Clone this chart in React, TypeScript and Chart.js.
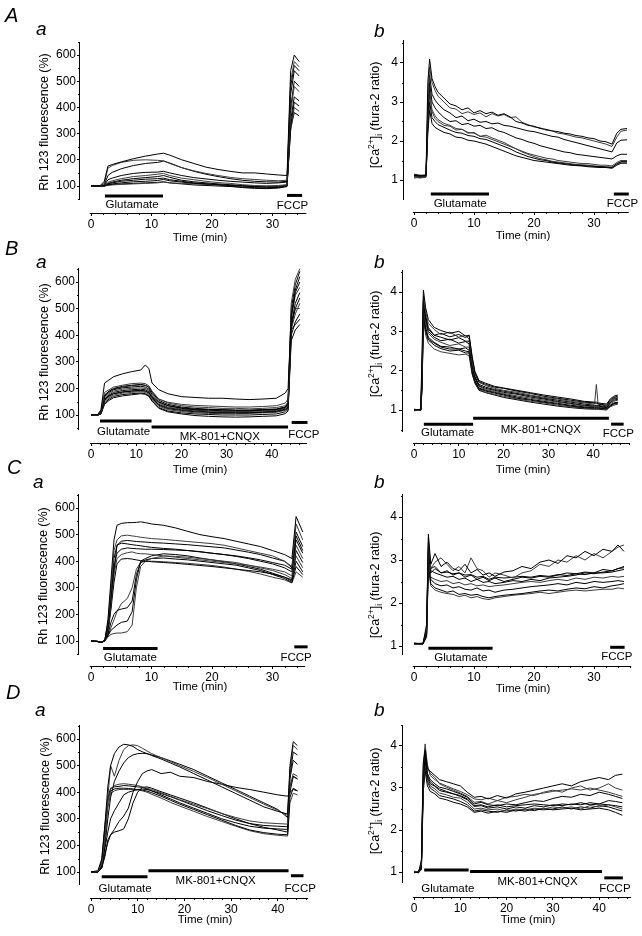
import React, { useEffect, useRef } from "react";
import { Chart, registerables } from "chart.js";

Chart.register(...registerables);

const FONT = '"Liberation Sans", Arial, Helvetica, sans-serif';

type Drug = { name: string; start: number; end: number; level: number; labelAt: number };

// ================= DATA =================
const rhTicks = [100, 200, 300, 400, 500, 600];
const caTicks = [1, 2, 3, 4];
const timeTicks30 = [0, 10, 20, 30];
const timeTicks40 = [0, 10, 20, 30, 40];

// ---- A a : Rh123, glutamate then FCCP ----
const timeAa = [0, 1.5, 2.2, 2.8, 3.5, 5, 7, 9, 11, 12, 13, 15, 17, 19, 21, 23, 25, 27, 29, 31, 32.4, 33.0, 33.6, 34.4];
const rhAa = [
  [100, 101, 118, 176, 182, 192, 204, 214, 222, 225, 218, 200, 186, 172, 163, 156, 150, 150, 146, 142, 140, 540, 600, 575],
  [100, 100, 110, 168, 178, 190, 198, 200, 198, 196, 186, 170, 158, 148, 140, 133, 128, 125, 122, 120, 122, 500, 575, 555],
  [100, 100, 105, 140, 152, 166, 178, 186, 190, 195, 188, 170, 156, 145, 136, 128, 122, 118, 116, 115, 118, 480, 560, 540],
  [100, 100, 102, 124, 130, 140, 148, 152, 153, 156, 150, 140, 132, 127, 122, 118, 115, 112, 110, 112, 115, 450, 540, 520],
  [100, 99, 100, 114, 120, 128, 136, 140, 145, 148, 140, 130, 124, 118, 113, 110, 105, 102, 100, 100, 104, 380, 480, 460],
  [100, 100, 101, 110, 115, 122, 128, 132, 136, 140, 133, 122, 116, 112, 108, 105, 102, 98, 95, 95, 100, 350, 440, 425],
  [100, 100, 100, 105, 108, 112, 116, 118, 121, 125, 120, 115, 110, 108, 105, 102, 100, 98, 97, 98, 102, 330, 420, 405],
  [100, 100, 100, 102, 104, 106, 108, 110, 112, 115, 112, 110, 108, 106, 104, 102, 100, 98, 100, 102, 105, 310, 400, 385],
  [100, 100, 100, 108, 112, 118, 122, 126, 128, 130, 124, 118, 112, 108, 104, 99, 94, 91, 90, 92, 98, 320, 380, 368],
  [100, 100, 100, 104, 106, 108, 110, 112, 114, 116, 112, 108, 104, 102, 100, 98, 96, 94, 92, 95, 100, 400, 500, 480],
];
const drugsAa: Drug[] = [
  { name: "Glutamate", start: 2.3, end: 11.9, level: 62, labelAt: 6.8 },
  { name: "FCCP", start: 32.4, end: 34.9, level: 64, labelAt: 33.3 },
];

// ---- A b : fura-2 ratio ----
const timeAb = [0, 1, 2.0, 2.3, 2.6, 3, 3.5, 4, 5, 6, 7, 8, 9, 10, 11, 12, 13, 14, 15, 16, 17, 18, 19, 20, 21, 22, 23, 24, 25, 26, 27, 28, 29, 30, 31, 32, 33, 33.8, 34.5, 35.5];
const caAb = [
  [1.12, 1.1, 1.12, 3.5, 4.1, 3.6, 3.4, 3.25, 3.1, 2.95, 2.9, 2.8, 2.85, 2.72, 2.78, 2.7, 2.74, 2.66, 2.7, 2.62, 2.5, 2.46, 2.4, 2.38, 2.32, 2.3, 2.26, 2.24, 2.2, 2.18, 2.14, 2.12, 2.08, 2.06, 2.0, 1.98, 1.92, 2.2, 2.3, 2.32],
  [1.08, 1.1, 1.1, 3.0, 3.9, 3.5, 3.3, 3.15, 3.0, 2.85, 2.82, 2.7, 2.75, 2.68, 2.72, 2.62, 2.7, 2.64, 2.68, 2.6, 2.62, 2.48, 2.42, 2.36, 2.34, 2.28, 2.26, 2.2, 2.18, 2.14, 2.1, 2.08, 2.04, 2.0, 1.96, 1.92, 1.86, 2.1, 2.25, 2.28],
  [1.15, 1.12, 1.13, 2.8, 3.7, 3.2, 3.05, 2.95, 2.8, 2.72, 2.6, 2.64, 2.52, 2.56, 2.48, 2.5, 2.44, 2.46, 2.4, 2.38, 2.34, 2.3, 2.26, 2.24, 2.2, 2.16, 2.12, 2.1, 2.04, 2.0, 1.96, 1.92, 1.88, 1.84, 1.8, 1.76, 1.72, 1.95, 2.02, 2.03],
  [1.1, 1.08, 1.1, 2.6, 3.5, 3.0, 2.85, 2.75, 2.6, 2.5, 2.52, 2.42, 2.45, 2.38, 2.4, 2.32, 2.34, 2.26, 2.22, 2.15, 2.08, 2.04, 1.98, 1.94, 1.88, 1.84, 1.8, 1.76, 1.72, 1.7, 1.66, 1.64, 1.62, 1.6, 1.58, 1.56, 1.54, 1.62, 1.66, 1.66],
  [1.05, 1.07, 1.08, 2.5, 3.3, 2.8, 2.65, 2.55, 2.45, 2.4, 2.32, 2.3, 2.22, 2.2, 2.12, 2.1, 2.04, 1.98, 1.92, 1.86, 1.8, 1.74, 1.68, 1.64, 1.6, 1.56, 1.54, 1.5, 1.48, 1.46, 1.44, 1.42, 1.42, 1.4, 1.38, 1.38, 1.36, 1.45, 1.5, 1.5],
  [1.12, 1.1, 1.1, 2.3, 3.0, 2.6, 2.5, 2.42, 2.35, 2.28, 2.22, 2.2, 2.14, 2.12, 2.06, 2.04, 1.98, 1.92, 1.86, 1.8, 1.72, 1.66, 1.6, 1.56, 1.52, 1.5, 1.46, 1.44, 1.42, 1.4, 1.38, 1.37, 1.36, 1.35, 1.34, 1.33, 1.32, 1.42, 1.47, 1.47],
  [1.1, 1.12, 1.1, 2.2, 2.8, 2.45, 2.35, 2.3, 2.22, 2.18, 2.1, 2.08, 2.02, 2.0, 1.96, 1.92, 1.86, 1.8, 1.74, 1.68, 1.62, 1.58, 1.54, 1.5, 1.48, 1.46, 1.44, 1.42, 1.4, 1.38, 1.37, 1.36, 1.34, 1.33, 1.32, 1.32, 1.3, 1.38, 1.43, 1.43],
  [1.08, 1.05, 1.07, 2.4, 3.2, 2.75, 2.58, 2.5, 2.4, 2.38, 2.28, 2.3, 2.2, 2.22, 2.12, 2.15, 2.08, 2.02, 1.96, 1.88, 1.8, 1.72, 1.66, 1.6, 1.55, 1.52, 1.48, 1.46, 1.44, 1.42, 1.4, 1.39, 1.38, 1.36, 1.35, 1.34, 1.33, 1.4, 1.46, 1.46],
];
const drugsAb: Drug[] = [
  { name: "Glutamate", start: 2.8, end: 12.5, level: 0.64, labelAt: 7.7 },
  { name: "FCCP", start: 33.3, end: 35.8, level: 0.64, labelAt: 34.75 },
];

// ---- B a : Rh123, glutamate then MK-801+CNQX ----
const timeBa = [0, 1.5, 2.2, 3, 4, 5, 7, 9, 11, 12, 12.8, 13.5, 15, 17, 20, 23, 26, 29, 32, 35, 38, 41, 43, 43.6, 44.3, 45.2, 46.2];
const rhBa = [
  [100, 102, 120, 220, 232, 244, 255, 263, 269, 288, 275, 220, 195, 180, 169, 166, 163, 163, 160, 158, 160, 163, 183, 200, 470, 560, 600],
  [100, 100, 115, 185, 195, 205, 212, 218, 220, 218, 210, 190, 160, 145, 135, 130, 128, 125, 125, 123, 125, 128, 135, 150, 520, 610, 650],
  [100, 101, 112, 175, 190, 200, 208, 212, 215, 212, 205, 185, 155, 140, 130, 125, 122, 120, 118, 118, 120, 122, 130, 145, 500, 590, 640],
  [100, 100, 110, 170, 185, 195, 202, 205, 208, 205, 198, 178, 150, 135, 125, 120, 118, 116, 115, 116, 118, 120, 128, 140, 480, 570, 620],
  [100, 99, 108, 165, 180, 190, 197, 200, 202, 200, 193, 172, 145, 130, 122, 118, 115, 113, 112, 113, 115, 117, 125, 135, 460, 550, 580],
  [100, 100, 107, 160, 175, 185, 192, 195, 197, 195, 188, 168, 140, 127, 120, 115, 112, 110, 110, 110, 112, 115, 122, 130, 440, 520, 560],
  [100, 101, 106, 155, 170, 180, 187, 190, 192, 190, 183, 165, 137, 124, 117, 112, 110, 108, 108, 108, 110, 113, 120, 128, 430, 500, 540],
  [100, 100, 105, 150, 165, 175, 182, 185, 188, 185, 178, 160, 133, 120, 113, 108, 106, 105, 105, 106, 108, 110, 118, 125, 420, 480, 520],
  [100, 100, 105, 145, 160, 170, 177, 180, 183, 180, 173, 155, 128, 115, 108, 104, 102, 100, 100, 100, 102, 104, 112, 120, 400, 450, 480],
  [100, 100, 104, 160, 172, 180, 186, 190, 192, 190, 184, 170, 148, 135, 127, 122, 120, 120, 118, 118, 120, 122, 130, 145, 420, 440, 460],
  [100, 99, 106, 175, 188, 198, 205, 210, 213, 211, 204, 185, 160, 148, 140, 136, 134, 132, 130, 130, 132, 135, 145, 160, 450, 500, 500],
  [100, 100, 104, 140, 155, 165, 172, 176, 180, 178, 170, 152, 125, 112, 104, 98, 95, 93, 92, 93, 95, 97, 105, 115, 380, 420, 440],
];
const drugsBa: Drug[] = [
  { name: "Glutamate", start: 2.0, end: 13.4, level: 77, labelAt: 7.2 },
  { name: "MK-801+CNQX", start: 13.4, end: 43.6, level: 55, labelAt: 28.5 },
  { name: "FCCP", start: 44.4, end: 47.9, level: 72, labelAt: 47.1 },
];

// ---- B b ----
const timeBb = [0, 1.5, 1.8, 2.1, 2.6, 3.2, 4.5, 6, 8, 10, 11.5, 12.3, 13, 13.6, 14.5, 16, 18, 20, 23, 26, 29, 32, 35, 38, 40.3, 40.7, 41.1, 43, 43.8, 44.6, 45.5];
const caBb = [
  [1.0, 1.02, 2.5, 4.05, 3.6, 3.3, 3.1, 3.02, 2.95, 3.0, 2.88, 2.9, 2.3, 1.95, 1.72, 1.65, 1.58, 1.55, 1.48, 1.42, 1.35, 1.3, 1.25, 1.2, 1.18, 1.17, 1.16, 1.12, 1.25, 1.32, 1.35],
  [1.0, 1.0, 2.2, 3.9, 3.5, 3.2, 3.05, 2.92, 2.98, 2.85, 2.9, 2.8, 2.2, 1.9, 1.7, 1.62, 1.55, 1.5, 1.45, 1.38, 1.32, 1.28, 1.22, 1.18, 1.15, 1.65, 1.15, 1.1, 1.22, 1.3, 1.32],
  [1.02, 1.0, 2.0, 3.8, 3.4, 3.1, 2.9, 2.85, 2.78, 2.84, 2.75, 2.75, 2.15, 1.85, 1.65, 1.58, 1.52, 1.48, 1.42, 1.36, 1.3, 1.25, 1.2, 1.15, 1.12, 1.12, 1.12, 1.08, 1.2, 1.28, 1.3],
  [1.0, 1.01, 1.9, 3.7, 3.3, 3.0, 2.85, 2.76, 2.8, 2.7, 2.74, 2.68, 2.1, 1.82, 1.62, 1.55, 1.5, 1.45, 1.4, 1.33, 1.28, 1.22, 1.17, 1.12, 1.1, 1.1, 1.1, 1.06, 1.18, 1.25, 1.27],
  [0.98, 1.0, 1.8, 3.6, 3.2, 2.95, 2.8, 2.72, 2.64, 2.68, 2.6, 2.6, 2.05, 1.8, 1.6, 1.52, 1.47, 1.42, 1.36, 1.3, 1.25, 1.2, 1.15, 1.1, 1.08, 1.08, 1.08, 1.05, 1.15, 1.22, 1.25],
  [1.0, 0.99, 1.7, 3.5, 3.1, 2.85, 2.72, 2.62, 2.6, 2.55, 2.58, 2.52, 2.0, 1.75, 1.56, 1.5, 1.45, 1.4, 1.33, 1.27, 1.22, 1.17, 1.12, 1.08, 1.06, 1.06, 1.06, 1.04, 1.12, 1.18, 1.2],
  [1.0, 1.0, 1.6, 3.4, 3.0, 2.78, 2.65, 2.56, 2.5, 2.52, 2.45, 2.45, 1.95, 1.72, 1.54, 1.48, 1.43, 1.38, 1.3, 1.25, 1.2, 1.15, 1.1, 1.06, 1.05, 1.05, 1.05, 1.03, 1.1, 1.15, 1.18],
  [1.01, 1.0, 1.5, 3.3, 2.9, 2.7, 2.55, 2.48, 2.44, 2.4, 2.42, 2.38, 1.9, 1.7, 1.52, 1.45, 1.4, 1.35, 1.28, 1.22, 1.18, 1.12, 1.08, 1.05, 1.03, 1.03, 1.03, 1.02, 1.08, 1.12, 1.15],
  [0.99, 1.0, 1.8, 3.75, 3.35, 3.05, 2.9, 2.95, 2.86, 2.92, 2.84, 2.9, 2.35, 1.98, 1.75, 1.68, 1.6, 1.56, 1.5, 1.44, 1.38, 1.33, 1.28, 1.22, 1.2, 1.2, 1.18, 1.15, 1.28, 1.35, 1.38],
  [1.0, 1.01, 1.6, 3.45, 3.05, 2.8, 2.7, 2.6, 2.55, 2.55, 2.5, 2.48, 1.92, 1.68, 1.5, 1.44, 1.38, 1.32, 1.26, 1.2, 1.15, 1.1, 1.06, 1.03, 1.02, 1.02, 1.02, 1.0, 1.1, 1.16, 1.18],
];
const drugsBb: Drug[] = [
  { name: "Glutamate", start: 2.2, end: 13.2, level: 0.64, labelAt: 7.5 },
  { name: "MK-801+CNQX", start: 13.2, end: 43.5, level: 0.79, labelAt: 28.3 },
  { name: "FCCP", start: 44.0, end: 46.8, level: 0.64, labelAt: 45.6 },
];

// ---- C a ----
const timeCa = [0, 1, 1.8, 2.3, 2.8, 3.3, 3.8, 4.3, 5, 6, 6.8, 7.5, 8.2, 9, 10, 12, 14, 16, 18, 20, 22, 24, 26, 28, 30, 32, 33.2, 33.9, 35];
const rhCa = [
  [100, 98, 95, 105, 180, 330, 480, 535, 542, 545, 545, 546, 548, 545, 540, 535, 525, 512, 500, 492, 485, 475, 465, 455, 440, 425, 410, 568, 510],
  [100, 99, 96, 105, 170, 300, 440, 480, 495, 498, 495, 493, 490, 488, 485, 482, 478, 474, 470, 466, 460, 450, 440, 430, 420, 400, 380, 540, 480],
  [100, 98, 95, 104, 160, 280, 410, 460, 475, 478, 476, 474, 473, 472, 470, 468, 465, 462, 458, 454, 450, 442, 434, 425, 412, 400, 375, 510, 455],
  [100, 99, 95, 103, 150, 260, 380, 430, 445, 450, 448, 447, 446, 445, 445, 444, 442, 440, 435, 430, 425, 418, 410, 400, 390, 375, 360, 480, 430],
  [100, 98, 96, 103, 140, 240, 350, 410, 425, 432, 435, 430, 428, 428, 425, 420, 415, 410, 405, 400, 395, 390, 385, 378, 370, 360, 345, 460, 410],
  [100, 99, 95, 102, 130, 220, 320, 390, 408, 410, 408, 405, 402, 400, 398, 395, 392, 388, 384, 380, 375, 370, 365, 360, 352, 340, 330, 440, 395],
  [100, 98, 96, 102, 135, 230, 360, 460, 468, 465, 462, 460, 458, 455, 452, 448, 445, 440, 436, 430, 425, 420, 413, 405, 395, 385, 370, 495, 440],
  [100, 98, 95, 100, 115, 125, 128, 130, 130, 135, 160, 300, 380, 400, 410, 420, 418, 415, 410, 405, 400, 395, 385, 375, 365, 350, 335, 420, 375],
  [100, 99, 95, 101, 120, 140, 150, 160, 170, 175, 210, 330, 400, 410, 420, 428, 425, 420, 412, 405, 398, 390, 380, 370, 355, 340, 325, 400, 360],
  [100, 98, 96, 101, 125, 170, 200, 215, 220, 225, 250, 350, 395, 405, 410, 412, 408, 405, 400, 395, 390, 385, 375, 365, 350, 335, 320, 380, 350],
  [100, 99, 95, 102, 118, 150, 180, 210, 240, 260, 300, 370, 395, 400, 400, 398, 395, 392, 388, 384, 378, 370, 362, 352, 340, 330, 318, 360, 340],
];
const drugsCa: Drug[] = [
  { name: "Glutamate", start: 2.0, end: 11.0, level: 72, labelAt: 6.5 },
  { name: "FCCP", start: 33.6, end: 35.8, level: 78, labelAt: 33.9 },
];

// ---- C b ----
const timeCb = [0, 1.5, 2.1, 2.4, 2.8, 3.5, 4.5, 5.5, 6.5, 7.5, 8.5, 9.5, 10.5, 11.5, 12.5, 13.5, 15, 16.5, 18, 19.5, 21, 22.5, 24, 25.5, 27, 28.5, 30, 31.5, 33, 34, 35];
const caCb = [
  [1.06, 1.05, 1.5, 3.6, 2.9, 3.15, 2.85, 2.95, 2.8, 2.75, 2.9, 2.7, 2.78, 2.65, 2.7, 2.62, 2.72, 2.75, 2.85, 2.8, 2.95, 3.0, 2.92, 3.1, 3.05, 3.2, 3.1, 3.25, 3.2, 3.35, 3.2],
  [1.05, 1.07, 1.4, 3.5, 2.8, 2.95, 3.05, 2.9, 2.75, 2.85, 2.7, 3.05, 2.8, 2.75, 2.6, 2.7, 2.65, 2.58, 2.7, 2.75, 2.9, 2.85, 3.0, 2.95, 3.1, 3.0, 3.15, 3.05, 3.2, 3.3, 3.35],
  [1.05, 1.05, 1.4, 3.3, 2.7, 2.8, 2.7, 2.75, 2.65, 2.7, 2.6, 2.65, 2.55, 2.6, 2.52, 2.58, 2.5, 2.55, 2.6, 2.58, 2.62, 2.6, 2.65, 2.7, 2.68, 2.72, 2.7, 2.78, 2.75, 2.8, 2.85],
  [1.07, 1.05, 1.3, 3.2, 2.75, 2.7, 2.65, 2.6, 2.62, 2.55, 2.58, 2.5, 2.55, 2.48, 2.5, 2.45, 2.48, 2.52, 2.5, 2.55, 2.52, 2.58, 2.6, 2.62, 2.65, 2.7, 2.68, 2.72, 2.75, 2.8, 2.82],
  [1.05, 1.06, 1.3, 3.1, 2.6, 2.55, 2.5, 2.52, 2.45, 2.48, 2.42, 2.45, 2.4, 2.42, 2.38, 2.4, 2.42, 2.45, 2.48, 2.5, 2.48, 2.52, 2.55, 2.52, 2.58, 2.55, 2.6, 2.58, 2.62, 2.6, 2.62],
  [1.05, 1.05, 1.25, 3.0, 2.55, 2.45, 2.4, 2.42, 2.35, 2.38, 2.32, 2.3, 2.35, 2.28, 2.3, 2.25, 2.3, 2.32, 2.35, 2.38, 2.4, 2.42, 2.45, 2.42, 2.48, 2.45, 2.5, 2.48, 2.5, 2.52, 2.5],
  [1.06, 1.05, 1.25, 2.9, 2.45, 2.35, 2.3, 2.25, 2.28, 2.2, 2.22, 2.18, 2.2, 2.15, 2.12, 2.15, 2.18, 2.2, 2.22, 2.25, 2.28, 2.3, 2.28, 2.32, 2.35, 2.33, 2.38, 2.35, 2.4, 2.42, 2.45],
  [1.05, 1.05, 1.2, 2.8, 2.4, 2.3, 2.25, 2.22, 2.2, 2.15, 2.18, 2.12, 2.15, 2.1, 2.08, 2.12, 2.15, 2.18, 2.2, 2.22, 2.25, 2.22, 2.25, 2.28, 2.3, 2.28, 2.3, 2.32, 2.32, 2.35, 2.33],
  [1.05, 1.06, 1.35, 3.4, 2.8, 2.85, 2.7, 2.72, 2.68, 2.7, 2.65, 2.66, 2.6, 2.62, 2.55, 2.6, 2.58, 2.6, 2.62, 2.6, 2.64, 2.62, 2.66, 2.64, 2.68, 2.66, 2.7, 2.7, 2.72, 2.75, 2.78],
];
const drugsCb: Drug[] = [
  { name: "Glutamate", start: 2.4, end: 13.1, level: 0.95, labelAt: 7.8 },
  { name: "FCCP", start: 32.7, end: 35.1, level: 0.97, labelAt: 33.8 },
];

// ---- D a ----
const timeDa = [0, 1.5, 2.3, 3, 3.6, 4.2, 5, 6, 7, 8, 9, 10, 11, 12, 13, 15, 17, 19, 22, 25, 28, 31, 34, 37, 40, 42.1, 42.6, 43.3, 44.2];
const rhDa = [
  [100, 105, 150, 280, 420, 500, 545, 570, 580, 578, 572, 560, 552, 545, 538, 525, 510, 495, 470, 445, 420, 395, 370, 345, 328, 318, 500, 590, 575],
  [100, 102, 130, 230, 380, 500, 460, 520, 560, 575, 578, 575, 565, 555, 545, 530, 515, 500, 478, 455, 430, 405, 380, 355, 332, 312, 480, 576, 560],
  [100, 100, 120, 200, 300, 380, 440, 480, 510, 530, 540, 545, 546, 545, 540, 530, 518, 505, 485, 460, 435, 410, 385, 360, 335, 305, 460, 551, 540],
  [100, 101, 115, 160, 220, 240, 260, 290, 310, 340, 400, 440, 470, 480, 485, 470, 475, 460, 455, 440, 430, 418, 410, 400, 390, 385, 400, 410, 405],
  [100, 100, 125, 250, 360, 410, 425, 430, 432, 430, 428, 425, 420, 415, 410, 398, 385, 372, 355, 338, 320, 305, 292, 285, 282, 280, 420, 470, 460],
  [100, 102, 140, 280, 380, 415, 420, 422, 425, 424, 422, 420, 418, 412, 405, 390, 375, 360, 340, 320, 300, 285, 272, 265, 262, 260, 400, 459, 450],
  [100, 100, 130, 260, 370, 405, 412, 415, 415, 414, 412, 410, 408, 404, 398, 385, 370, 355, 335, 315, 295, 275, 258, 248, 242, 240, 380, 415, 405],
  [100, 101, 120, 220, 340, 395, 405, 410, 410, 410, 410, 408, 405, 400, 392, 378, 362, 348, 328, 308, 290, 272, 255, 244, 238, 235, 360, 396, 390],
  [100, 100, 115, 170, 210, 240, 250, 255, 262, 300, 360, 400, 418, 420, 415, 402, 390, 378, 360, 340, 320, 300, 282, 268, 258, 250, 450, 520, 505],
  [100, 100, 118, 190, 250, 300, 330, 360, 390, 400, 405, 410, 412, 410, 405, 395, 383, 370, 350, 330, 312, 295, 282, 275, 272, 270, 420, 460, 450],
];
const drugsDa: Drug[] = [
  { name: "Glutamate", start: 2.3, end: 12.1, level: 82, labelAt: 7.3 },
  { name: "MK-801+CNQX", start: 12.3, end: 42.3, level: 105, labelAt: 26.7 },
  { name: "FCCP", start: 42.8, end: 45.5, level: 86, labelAt: 44.8 },
];

// ---- D b ----
const timeDb = [0, 1, 1.6, 2.0, 2.4, 2.9, 3.5, 4.5, 5.5, 7, 8.5, 10, 11.5, 13, 14.5, 16, 18, 20, 22, 24, 26, 28, 30, 32, 34, 36, 38, 40, 42, 43.5, 45];
const caDb = [
  [1.0, 0.98, 1.3, 3.6, 3.9, 3.45, 3.4, 3.3, 3.2, 3.15, 3.1, 3.05, 2.9, 2.78, 2.8, 2.74, 2.82, 2.76, 2.86, 2.9, 2.95, 3.0, 3.05, 3.1, 3.05, 3.15, 3.2, 3.25, 3.2, 3.3, 3.33],
  [1.02, 1.0, 1.2, 3.5, 4.05, 3.55, 3.3, 3.2, 3.12, 3.05, 2.98, 2.92, 2.84, 2.74, 2.72, 2.76, 2.7, 2.78, 2.8, 2.85, 2.82, 2.9, 2.95, 2.9, 3.0, 3.05, 2.95, 3.0, 3.1, 3.0, 2.95],
  [0.98, 1.02, 1.1, 3.3, 3.8, 3.35, 3.2, 3.1, 3.02, 2.98, 2.92, 2.86, 2.78, 2.62, 2.66, 2.6, 2.58, 2.62, 2.6, 2.65, 2.7, 2.68, 2.75, 2.8, 2.78, 2.85, 2.82, 2.9, 2.85, 2.8, 2.75],
  [1.0, 1.0, 1.15, 3.2, 3.7, 3.25, 3.1, 3.04, 2.94, 2.9, 2.86, 2.8, 2.72, 2.56, 2.58, 2.52, 2.55, 2.5, 2.55, 2.52, 2.58, 2.55, 2.6, 2.58, 2.62, 2.6, 2.65, 2.62, 2.7, 2.68, 2.65],
  [1.02, 0.98, 1.1, 3.1, 3.6, 3.2, 3.05, 2.98, 2.88, 2.84, 2.78, 2.76, 2.66, 2.5, 2.52, 2.48, 2.5, 2.45, 2.5, 2.48, 2.52, 2.5, 2.55, 2.52, 2.55, 2.5, 2.58, 2.55, 2.6, 2.55, 2.5],
  [1.0, 1.0, 1.1, 3.0, 3.5, 3.15, 3.0, 2.92, 2.82, 2.78, 2.74, 2.68, 2.6, 2.45, 2.48, 2.45, 2.42, 2.48, 2.45, 2.5, 2.46, 2.52, 2.48, 2.5, 2.52, 2.48, 2.5, 2.52, 2.48, 2.42, 2.35],
  [0.98, 1.0, 1.05, 2.9, 3.4, 3.05, 2.92, 2.86, 2.76, 2.72, 2.66, 2.62, 2.55, 2.42, 2.45, 2.4, 2.45, 2.42, 2.48, 2.45, 2.5, 2.48, 2.5, 2.55, 2.5, 2.55, 2.52, 2.58, 2.55, 2.5, 2.45],
  [1.0, 1.02, 1.2, 3.4, 3.95, 3.5, 3.35, 3.25, 3.1, 3.02, 2.95, 2.88, 2.8, 2.66, 2.68, 2.62, 2.7, 2.65, 2.72, 2.78, 2.85, 2.88, 2.92, 2.95, 2.98, 2.95, 3.0, 2.95, 2.9, 2.85, 2.8],
  [1.01, 1.0, 1.15, 3.25, 3.75, 3.3, 3.15, 3.05, 2.98, 2.92, 2.86, 2.82, 2.74, 2.58, 2.6, 2.55, 2.6, 2.55, 2.58, 2.6, 2.62, 2.6, 2.58, 2.62, 2.6, 2.65, 2.6, 2.62, 2.6, 2.58, 2.55],
];
const drugsDb: Drug[] = [
  { name: "Glutamate", start: 2.2, end: 11.8, level: 1.05, labelAt: 7.3 },
  { name: "MK-801+CNQX", start: 12.1, end: 40.6, level: 1.01, labelAt: 26.7 },
  { name: "FCCP", start: 41.1, end: 45.1, level: 0.86, labelAt: 43.4 },
];

// ================= LAYOUT (pixels) =================
type Geo = {
  left: number; top: number; width: number; height: number;
  axisX: number; plotTop: number; plotRight: number; axisY: number; yLineBottom: number;
  x0: number; pxPerMin: number; yRef: number[]; xLine: number[];
  labelDy: number[]; yTitle: number[]; xTitle: number[]; yTickLen: number; yTickPad: number;
};

type PanelCfg = {
  kind: "rh" | "ca"; time: number[]; traces: number[][]; drugs: Drug[];
  xTicks: number[]; yTicks: number[]; geo: Geo;
};

const panels: PanelCfg[] = [
  { kind: "rh", time: timeAa, traces: rhAa, drugs: drugsAa, xTicks: timeTicks30, yTicks: rhTicks,
    geo: { left: 0, top: 0, width: 321, height: 245, axisX: 80, plotTop: 42, plotRight: 318, axisY: 213, yLineBottom: 200,
      x0: 91, pxPerMin: 6.05, yRef: [100, 186, 600, 55], xLine: [-0.2, 35.6], labelDy: [9, 10], yTitle: [45, 122], xTitle: [200, 238], yTickLen: 3, yTickPad: 1 } },
  { kind: "ca", time: timeAb, traces: caAb, drugs: drugsAb, xTicks: timeTicks30, yTicks: caTicks,
    geo: { left: 321, top: 0, width: 321, height: 245, axisX: 404, plotTop: 40, plotRight: 640, axisY: 212, yLineBottom: 200,
      x0: 414, pxPerMin: 6.0, yRef: [1, 180, 4, 63], xLine: [-0.2, 35.8], labelDy: [10, 10], yTitle: [376, 115], xTitle: [523, 236], yTickLen: 4, yTickPad: 2 } },
  { kind: "rh", time: timeBa, traces: rhBa, drugs: drugsBa, xTicks: timeTicks40, yTicks: rhTicks,
    geo: { left: 0, top: 245, width: 321, height: 233, axisX: 79, plotTop: 268, plotRight: 318, axisY: 443, yLineBottom: 430,
      x0: 91, pxPerMin: 4.52, yRef: [100, 415, 600, 282], xLine: [-0.2, 47.8], labelDy: [11, 10, 12], yTitle: [45, 352], xTitle: [200, 470], yTickLen: 3, yTickPad: 1 } },
  { kind: "ca", time: timeBb, traces: caBb, drugs: drugsBb, xTicks: timeTicks40, yTicks: caTicks,
    geo: { left: 321, top: 245, width: 321, height: 233, axisX: 403, plotTop: 270, plotRight: 640, axisY: 443, yLineBottom: 432,
      x0: 414, pxPerMin: 4.48, yRef: [1, 410, 4, 292], xLine: [-0.2, 48], labelDy: [9, 12, 10], yTitle: [376, 344], xTitle: [523, 470], yTickLen: 4, yTickPad: 2 } },
  { kind: "rh", time: timeCa, traces: rhCa, drugs: drugsCa, xTicks: timeTicks30, yTicks: rhTicks,
    geo: { left: 0, top: 478, width: 321, height: 219, axisX: 79, plotTop: 494, plotRight: 318, axisY: 666, yLineBottom: 655,
      x0: 91, pxPerMin: 6.05, yRef: [100, 641, 600, 508], xLine: [-0.2, 35.4], labelDy: [9, 11], yTitle: [44, 576], xTitle: [200, 687], yTickLen: 3, yTickPad: 1 } },
  { kind: "ca", time: timeCb, traces: caCb, drugs: drugsCb, xTicks: timeTicks30, yTicks: caTicks,
    geo: { left: 321, top: 478, width: 321, height: 219, axisX: 403, plotTop: 494, plotRight: 640, axisY: 666, yLineBottom: 655,
      x0: 414, pxPerMin: 6.0, yRef: [1, 646, 4, 517], xLine: [-0.2, 36.2], labelDy: [10, 10], yTitle: [376, 585], xTitle: [523, 689], yTickLen: 4, yTickPad: 2 } },
  { kind: "rh", time: timeDa, traces: rhDa, drugs: drugsDa, xTicks: timeTicks40, yTicks: rhTicks,
    geo: { left: 0, top: 697, width: 321, height: 239, axisX: 80, plotTop: 725, plotRight: 318, axisY: 898, yLineBottom: 885,
      x0: 91, pxPerMin: 4.67, yRef: [100, 872, 600, 739], xLine: [-0.2, 46.5], labelDy: [12, 10, 13], yTitle: [46, 806], xTitle: [205, 920], yTickLen: 3, yTickPad: 1 } },
  { kind: "ca", time: timeDb, traces: caDb, drugs: drugsDb, xTicks: timeTicks40, yTicks: caTicks,
    geo: { left: 321, top: 697, width: 321, height: 239, axisX: 403, plotTop: 725, plotRight: 640, axisY: 897, yLineBottom: 883,
      x0: 414, pxPerMin: 4.63, yRef: [1, 872, 4, 746], xLine: [-0.2, 46.9], labelDy: [19, 10, 11], yTitle: [376, 801], xTitle: [528, 920], yTickLen: 4, yTickPad: 2 } },
];

const letters = [
  { t: "A", x: 5, base: 22, size: 20 }, { t: "a", x: 36, base: 35, size: 19 }, { t: "b", x: 374, base: 37, size: 19 },
  { t: "B", x: 5, base: 255, size: 20 }, { t: "a", x: 36, base: 268, size: 19 }, { t: "b", x: 374, base: 268, size: 19 },
  { t: "C", x: 7, base: 474, size: 20 }, { t: "a", x: 33, base: 488, size: 19 }, { t: "b", x: 374, base: 488, size: 19 },
  { t: "D", x: 6, base: 699, size: 20 }, { t: "a", x: 35, base: 716, size: 19 }, { t: "b", x: 374, base: 716, size: 19 },
];

// ================= DRAWING =================
function drawYTitle(ctx: CanvasRenderingContext2D, kind: string, x: number, y: number) {
  ctx.save();
  ctx.translate(x, y);
  ctx.rotate(-Math.PI / 2);
  ctx.fillStyle = "#000";
  ctx.textBaseline = "middle";
  ctx.textAlign = "left";
  const big = `12.5px ${FONT}`;
  const small = `8.5px ${FONT}`;
  const parts =
    kind === "rh"
      ? [{ s: "Rh 123 fluorescence (%)", f: big, dy: 0 }]
      : [
          { s: "[Ca", f: big, dy: 0 },
          { s: "2+", f: small, dy: -4 },
          { s: "]", f: big, dy: 0 },
          { s: "i", f: small, dy: 4 },
          { s: " (fura-2 ratio)", f: big, dy: 0 },
        ];
  let w = 0;
  parts.forEach((p) => { ctx.font = p.f; w += ctx.measureText(p.s).width; });
  let cx = -w / 2;
  parts.forEach((p) => { ctx.font = p.f; ctx.fillText(p.s, cx, p.dy); cx += ctx.measureText(p.s).width; });
  ctx.restore();
}

function makeDecor(cfg: PanelCfg) {
  return {
    id: "decor",
    afterDraw(chart: any) {
      const { ctx, chartArea: ca, scales } = chart;
      const xs = scales.x;
      const ys = scales.y;
      const g = cfg.geo;
      ctx.save();
      ctx.strokeStyle = "#000";
      ctx.lineWidth = 1;
      ctx.beginPath();
      // y axis line
      ctx.moveTo(ca.left - 0.5, ca.top);
      ctx.lineTo(ca.left - 0.5, g.yLineBottom - g.top);
      // x axis line
      ctx.moveTo(xs.getPixelForValue(g.xLine[0]), ca.bottom + 0.5);
      ctx.lineTo(xs.getPixelForValue(g.xLine[1]), ca.bottom + 0.5);
      // x minor ticks
      for (let i = 1; i * 2 <= g.xLine[1]; i++) {
        const t = i * 2;
        if (t % 10 === 0) continue;
        const px = Math.round(xs.getPixelForValue(t)) + 0.5;
        ctx.moveTo(px, ca.bottom);
        ctx.lineTo(px, ca.bottom + 2);
      }
      // y minor ticks
      const step = (cfg.yTicks[1] - cfg.yTicks[0]) / 2;
      for (let i = 0; i < 40; i++) {
        const v = cfg.yTicks[0] - step + i * step;
        if (i % 2 === 1) continue;
        const py = Math.round(ys.getPixelForValue(v)) + 0.5;
        if (py < ca.top || py > g.yLineBottom - g.top) continue;
        ctx.moveTo(ca.left - 2, py);
        ctx.lineTo(ca.left, py);
      }
      ctx.stroke();
      // drug labels
      ctx.fillStyle = "#000";
      ctx.font = `11.5px ${FONT}`;
      ctx.textAlign = "center";
      ctx.textBaseline = "middle";
      cfg.drugs.forEach((d, i) => {
        ctx.fillText(d.name, xs.getPixelForValue(d.labelAt), ys.getPixelForValue(d.level) + g.labelDy[i]);
      });
      // x title
      ctx.font = `11.5px ${FONT}`;
      ctx.fillText("Time (min)", g.xTitle[0] - g.left, g.xTitle[1] - g.top);
      ctx.restore();
      drawYTitle(ctx, cfg.kind, g.yTitle[0] - g.left, g.yTitle[1] - g.top);
    },
  };
}

function Panel({ cfg }: { cfg: PanelCfg }) {
  const ref = useRef<HTMLCanvasElement>(null);
  const g = cfg.geo;
  useEffect(() => {
    if (!ref.current) return;
    const xmin = (g.axisX - g.x0) / g.pxPerMin;
    const xmax = (g.plotRight - g.x0) / g.pxPerMin;
    const [v1, p1, v2, p2] = g.yRef;
    const s = (v2 - v1) / (p1 - p2);
    const ymin = v1 - (g.axisY - p1) * s;
    const ymax = v1 + (p1 - g.plotTop) * s;
    const datasets: any[] = cfg.traces.map((vals, k) => ({
      data: vals.map((v, i) => ({ x: cfg.time[i], y: v })),
      borderColor: k % 3 === 1 ? "#3c3c3c" : "#000",
      borderWidth: 1,
      pointRadius: 0,
      tension: 0,
      fill: false,
      clip: false,
    }));
    cfg.drugs.forEach((d) => {
      datasets.push({
        data: [{ x: d.start, y: d.level }, { x: d.end, y: d.level }],
        borderColor: "#000",
        borderWidth: 3,
        pointRadius: 0,
        borderCapStyle: "butt",
        fill: false,
        clip: false,
      });
    });
    const tickFont = { family: FONT, size: 12 };
    const chart = new Chart(ref.current, {
      type: "line",
      data: { datasets },
      options: {
        animation: false,
        responsive: false,
        maintainAspectRatio: false,
        devicePixelRatio: 1,
        events: [],
        layout: { padding: { left: 0, top: g.plotTop - g.top, right: g.left + g.width - g.plotRight, bottom: 0 } },
        plugins: { legend: { display: false }, tooltip: { enabled: false } },
        scales: {
          x: {
            type: "linear",
            min: xmin,
            max: xmax,
            afterBuildTicks: (sc: any) => { sc.ticks = cfg.xTicks.map((v) => ({ value: v })); },
            afterFit: (sc: any) => { sc.height = g.top + g.height - g.axisY; },
            grid: { drawOnChartArea: false, drawTicks: true, tickLength: 3, color: "#000" },
            border: { display: false },
            ticks: { color: "#000", font: tickFont, padding: 1, maxRotation: 0, autoSkip: false },
          },
          y: {
            type: "linear",
            min: ymin,
            max: ymax,
            afterBuildTicks: (sc: any) => { sc.ticks = cfg.yTicks.map((v) => ({ value: v })); },
            afterFit: (sc: any) => { sc.width = g.axisX - g.left; },
            grid: { drawOnChartArea: false, drawTicks: true, tickLength: g.yTickLen, color: "#000" },
            border: { display: false },
            ticks: { color: "#000", font: tickFont, padding: g.yTickPad, autoSkip: false },
          },
        },
      } as any,
      plugins: [makeDecor(cfg)],
    });
    return () => chart.destroy();
  }, []);
  return (
    <canvas
      ref={ref}
      width={g.width}
      height={g.height}
      style={{ position: "absolute", left: g.left, top: g.top, width: g.width, height: g.height }}
    />
  );
}

export default function App() {
  return (
    <div style={{ position: "absolute", left: 0, top: 0, width: 642, height: 936, overflow: "hidden", background: "#fff", fontFamily: FONT }}>
      {panels.map((p, i) => (
        <Panel key={i} cfg={p} />
      ))}
      {letters.map((l, i) => (
        <div
          key={"l" + i}
          style={{
            position: "absolute",
            left: l.x,
            top: l.base - 0.8465 * l.size,
            fontSize: l.size,
            lineHeight: 1,
            fontStyle: "italic",
            fontFamily: FONT,
            color: "#000",
          }}
        >
          {l.t}
        </div>
      ))}
    </div>
  );
}
